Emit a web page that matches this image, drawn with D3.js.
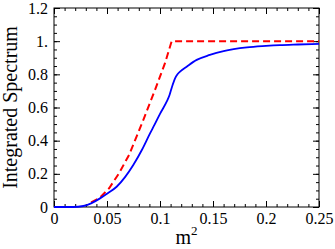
<!DOCTYPE html>
<html>
<head>
<meta charset="utf-8">
<script src="https://cdn.jsdelivr.net/npm/d3@7"></script>
<style>
  body { margin: 0; background: #fff; }
  svg { display: block; }
  svg text { font-family: "Liberation Serif", "Times New Roman", serif !important; }
</style>
</head>
<body>
<svg width="335" height="249"></svg>
<script>
// m^2 values and integrated spectrum
var blueX = [0, 0.01, 0.018, 0.0277, 0.035, 0.0434, 0.051, 0.0591, 0.067, 0.0748, 0.083, 0.0906, 0.095, 0.1, 0.1063, 0.109, 0.111, 0.1142, 0.1165, 0.1189, 0.1252, 0.1346, 0.147, 0.16, 0.182, 0.2, 0.213, 0.23, 0.25];
var blueY = [0, 0, 0, 0.006, 0.022, 0.052, 0.085, 0.122, 0.18, 0.253, 0.345, 0.444, 0.498, 0.562, 0.635, 0.675, 0.718, 0.776, 0.8, 0.816, 0.846, 0.887, 0.917, 0.94, 0.962, 0.971, 0.976, 0.98, 0.984];

var redX = [0.035, 0.0425, 0.052, 0.0613, 0.0708, 0.0843, 0.0953, 0.1047, 0.111, 0.25];
var redY = [0.028, 0.052, 0.113, 0.203, 0.314, 0.525, 0.706, 0.867, 1, 1];

var xTicks = [0, 0.05, 0.1, 0.15, 0.2, 0.25];
var xTickLabels = ["0", "0.05", "0.1", "0.15", "0.2", "0.25"];
var yTicks = [0, 0.2, 0.4, 0.6, 0.8, 1, 1.2];
var yTickLabels = ["0", "0.2", "0.4", "0.6", "0.8", "1.", "1.2"];
var xMinor = d3.range(0, 26).map(i => i / 100);
var yMinor = d3.range(0, 25).map(i => i * 0.05);

var margin = {left: 54, top: 8, right: 16, bottom: 42};
var W = 335, H = 249;
var svg = d3.select("svg");

var x = d3.scaleLinear().domain([0, 0.25]).range([margin.left, W - margin.right]);
var y = d3.scaleLinear().domain([0, 1.2]).range([H - margin.bottom, margin.top]);

// frame
svg.append("rect")
   .attr("x", x(0)).attr("y", y(1.2))
   .attr("width", x(0.25) - x(0)).attr("height", y(0) - y(1.2))
   .attr("fill", "none").attr("stroke", "#000").attr("stroke-width", 1);

function tidy(g) {
  g.select(".domain").remove();
  g.selectAll(".tick line").attr("stroke", "#000");
}

// minor ticks on all four sides, pointing in
svg.append("g").attr("transform", `translate(0,${y(0)})`)
   .call(d3.axisBottom(x).tickValues(xMinor).tickSize(-3).tickFormat("")).call(tidy);
svg.append("g").attr("transform", `translate(0,${y(1.2)})`)
   .call(d3.axisTop(x).tickValues(xMinor).tickSize(-3).tickFormat("")).call(tidy);
svg.append("g").attr("transform", `translate(${x(0)},0)`)
   .call(d3.axisLeft(y).tickValues(yMinor).tickSize(-3).tickFormat("")).call(tidy);
svg.append("g").attr("transform", `translate(${x(0.25)},0)`)
   .call(d3.axisRight(y).tickValues(yMinor).tickSize(-3).tickFormat("")).call(tidy);

// major ticks
svg.append("g").attr("transform", `translate(0,${y(0)})`)
   .call(d3.axisBottom(x).tickValues(xTicks).tickSize(-6).tickPadding(6)
         .tickFormat((d, i) => xTickLabels[i])).call(tidy);
svg.append("g").attr("transform", `translate(0,${y(1.2)})`)
   .call(d3.axisTop(x).tickValues(xTicks).tickSize(-6).tickFormat("")).call(tidy);
svg.append("g").attr("transform", `translate(${x(0)},0)`)
   .call(d3.axisLeft(y).tickValues(yTicks).tickSize(-6).tickPadding(6)
         .tickFormat((d, i) => yTickLabels[i])).call(tidy);
svg.append("g").attr("transform", `translate(${x(0.25)},0)`)
   .call(d3.axisRight(y).tickValues(yTicks).tickSize(-6).tickFormat("")).call(tidy);

svg.selectAll(".tick text")
   .style("font-size", "16px")
   .attr("fill", "#000");

// curves
var line = d3.line().x(d => x(d[0])).y(d => y(d[1]));

svg.append("path")
   .datum(redX.map((v, i) => [v, redY[i]]))
   .attr("d", line)
   .attr("fill", "none")
   .attr("stroke", "#ff0000")
   .attr("stroke-width", 2)
   .attr("stroke-dasharray", "7,4");

svg.append("path")
   .datum(blueX.map((v, i) => [v, blueY[i]]))
   .attr("d", line.curve(d3.curveMonotoneX))
   .attr("fill", "none")
   .attr("stroke", "#0000ff")
   .attr("stroke-width", 1.8);

// axis titles
var xt = svg.append("text")
   .attr("x", (x(0) + x(0.25)) / 2).attr("y", 244)
   .attr("text-anchor", "middle")
   .style("font-size", "20px");
xt.append("tspan").text("m");
xt.append("tspan").style("font-size", "13px").attr("dy", -9).text("2");

svg.append("text")
   .attr("transform", `translate(17,${(y(0) + y(1.2)) / 2}) rotate(-90)`)
   .attr("text-anchor", "middle")
   .style("font-size", "20px")
   .text("Integrated Spectrum");
</script>
</body>
</html>
